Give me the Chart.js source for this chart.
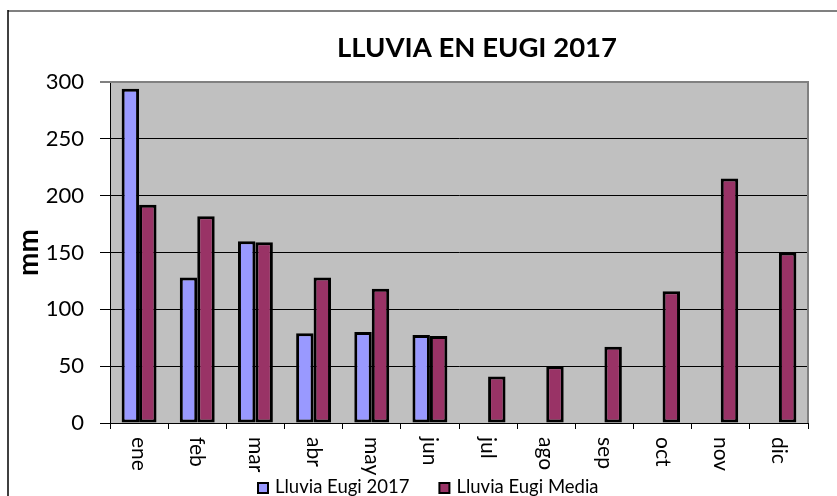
<!DOCTYPE html>
<html><head><meta charset="utf-8">
<script src="https://cdn.jsdelivr.net/npm/chart.js@4.4.1/dist/chart.umd.min.js"></script>
<style>
html,body{margin:0;padding:0;background:#fff;overflow:hidden;width:837px;height:496px}
#wrap{position:absolute;left:0;top:0;width:960px;height:496px}
canvas{display:block}
</style></head><body>
<div id="wrap"><canvas id="c" width="960" height="496"></canvas></div>
<script>
const months = ['ene','feb','mar','abr','may','jun','jul','ago','sep','oct','nov','dic'];
const lluvia2017 = [294, 128, 160, 79, 80, 77.5, null, null, null, null, null, null];
const lluviaMedia = [192, 182, 159, 128, 118, 76.5, 41, 50, 67, 116, 215, 150];
const yTicks = [0, 50, 100, 150, 200, 250, 300];
const seriesNames = ['Lluvia Eugi 2017', 'Lluvia Eugi Media'];
const chartTitle = 'LLUVIA EN EUGI 2017';
const yTitle = 'mm';

const FONT = 'Lato';

const backgroundPlugin = {
  id: 'bg',
  beforeDraw(chart) {
    const {ctx, chartArea: a} = chart;
    ctx.save();
    ctx.fillStyle = '#fff';
    ctx.fillRect(0, 0, chart.width, chart.height);
    ctx.fillStyle = '#C0C0C0';
    ctx.fillRect(a.left, a.top, a.right - a.left, a.bottom - a.top);
    ctx.restore();
  },
  beforeDatasetsDraw(chart) {
    const {ctx, chartArea: a} = chart;
    ctx.save();
    ctx.strokeStyle = '#808080';
    ctx.lineWidth = 2;
    ctx.beginPath();
    ctx.moveTo(a.left, a.top);
    ctx.lineTo(a.right, a.top);
    ctx.lineTo(a.right, a.bottom);
    ctx.stroke();
    ctx.restore();
  }
};

const xLabelPlugin = {
  id: 'xlabels',
  afterDraw(chart) {
    const {ctx} = chart;
    const xs = chart.scales.x;
    ctx.save();
    ctx.fillStyle = '#000';
    ctx.font = '21px ' + FONT;
    ctx.textAlign = 'left';
    ctx.textBaseline = 'middle';
    chart.data.labels.forEach((lab, i) => {
      const x = xs.getPixelForValue(i);
      ctx.save();
      ctx.translate(x, xs.top + 14);
      ctx.rotate(Math.PI / 2);
      ctx.fillText(lab, 0, 0);
      ctx.restore();
    });
    ctx.restore();
  }
};

const legendPlugin = {
  id: 'customLegend',
  afterDraw(chart) {
    const {ctx} = chart;
    ctx.save();
    ctx.font = '18.5px ' + FONT;
    ctx.textAlign = 'left';
    ctx.textBaseline = 'alphabetic';
    let x = 258;
    const boxTop = 483, box = 10, baseline = 493;
    chart.data.datasets.forEach(ds => {
      ctx.fillStyle = ds.backgroundColor;
      ctx.fillRect(x, boxTop, box, box);
      ctx.strokeStyle = '#000';
      ctx.lineWidth = 2;
      ctx.strokeRect(x, boxTop, box, box);
      ctx.fillStyle = '#000';
      const tx = x + box + 7;
      ctx.fillText(ds.label, tx, baseline);
      x = tx + ctx.measureText(ds.label).width + 30;
    });
    ctx.restore();
  }
};

const framePlugin = {
  id: 'frame',
  afterDraw(chart) {
    const {ctx} = chart;
    ctx.save();
    ctx.strokeStyle = '#808080';
    ctx.lineWidth = 2;
    ctx.beginPath();
    ctx.moveTo(8, 11);
    ctx.lineTo(chart.width, 11);
    ctx.stroke();
    ctx.strokeStyle = '#000';
    ctx.lineWidth = 1.5;
    ctx.beginPath();
    ctx.moveTo(8, 10);
    ctx.lineTo(8, chart.height);
    ctx.stroke();
    ctx.restore();
  }
};

new Chart(document.getElementById('c'), {
  type: 'bar',
  data: {
    labels: months,
    datasets: [
      {label: seriesNames[0], data: lluvia2017, backgroundColor: '#9999FF', borderColor: '#000', borderWidth: 3, borderSkipped: false, categoryPercentage: 0.6, barPercentage: 1.0},
      {label: seriesNames[1], data: lluviaMedia, backgroundColor: '#993366', borderColor: '#000', borderWidth: 3, borderSkipped: false, categoryPercentage: 0.6, barPercentage: 1.0}
    ]
  },
  options: {
    responsive: false,
    animation: false,
    devicePixelRatio: 1,
    layout: {padding: {left: 10, right: 16, top: 0, bottom: 0}},
    plugins: {
      legend: {display: false},
      tooltip: {enabled: false},
      title: {
        display: true, text: chartTitle, color: '#000',
        font: {family: FONT, size: 27.5, weight: 'bold'},
        padding: {top: 32, bottom: 17}
      }
    },
    scales: {
      x: {
        grid: {display: true, offset: true, drawOnChartArea: false, drawTicks: true, tickLength: 6, color: '#000', lineWidth: 1},
        border: {display: true, color: '#000', width: 1},
        ticks: {display: false},
        afterFit: s => { s.height = 73; }
      },
      y: {
        min: 0, max: 300,
        afterBuildTicks: s => { s.ticks = yTicks.map(v => ({value: v})); },
        grid: {
          color: c => (c.tick && c.tick.value === 300) ? '#808080' : '#000',
          lineWidth: c => (c.tick && c.tick.value === 300) ? 2 : 1,
          tickLength: 10, drawTicks: true
        },
        border: {display: true, color: '#000', width: 1},
        ticks: {font: {family: FONT, size: 22}, color: '#000', padding: 16},
        title: {display: true, text: yTitle, color: '#000', font: {family: FONT, size: 28, weight: 'bold'}, padding: {top: 2, bottom: 0}},
        afterFit: s => { s.width = 100; }
      },
      spacer: {
        type: 'linear', position: 'right', display: true,
        grid: {display: false}, border: {display: false}, ticks: {display: false},
        afterFit: s => { s.width = 136; }
      }
    }
  },
  plugins: [backgroundPlugin, xLabelPlugin, legendPlugin, framePlugin]
});
</script>
</body></html>
